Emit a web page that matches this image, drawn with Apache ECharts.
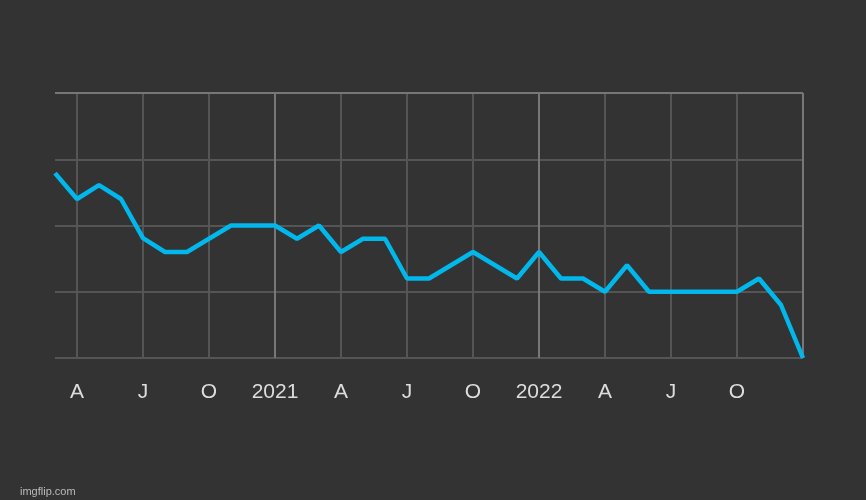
<!DOCTYPE html>
<html>
<head>
<meta charset="utf-8">
<script src="https://cdn.jsdelivr.net/npm/echarts@6/dist/echarts.min.js"></script>
<style>html,body{margin:0;background:#333;}</style>
</head>
<body>
<div id="chart" style="width:866px;height:500px;"></div>
<script>
// months Mar 2020 .. Jan 2023
var months = [];
for (var y = 2020; y <= 2023; y++) {
  for (var m = 1; m <= 12; m++) {
    if ((y === 2020 && m < 3) || (y === 2023 && m > 1)) continue;
    months.push(y + '-' + (m < 10 ? '0' + m : m));
  }
}
var values = [2.79, 2.4, 2.61, 2.4, 1.81, 1.6, 1.6, 1.8, 2.0, 2.0,
  2.0, 1.8, 2.0, 1.6, 1.8, 1.8, 1.2, 1.2, 1.4, 1.6, 1.4, 1.2,
  1.6, 1.2, 1.2, 1.0, 1.4, 1.0, 1.0, 1.0, 1.0, 1.0, 1.2, 0.8,
  0.0];
var monthLetters = {'04': 'A', '07': 'J', '10': 'O'};

function isMarked(i) {
  var mm = months[i].slice(5);
  return mm === '01' || monthLetters[mm];
}

var chart = echarts.init(document.getElementById('chart'));
chart.setOption({
  backgroundColor: '#333333',
  grid: {left: 55, right: 63, top: 93, bottom: 142},
  xAxis: {
    type: 'category',
    data: months,
    boundaryGap: false,
    axisLine: {show: false},
    axisTick: {show: false},
    axisLabel: {
      interval: function (i) { return isMarked(i) && i < months.length - 1; },
      color: '#dddddd',
      fontSize: 21,
      fontFamily: 'Liberation Sans',
      margin: 24,
      formatter: function (v) {
        var mm = v.slice(5);
        return mm === '01' ? v.slice(0, 4) : monthLetters[mm];
      }
    },
    splitLine: {
      show: true,
      interval: function (i) { return isMarked(i); },
      lineStyle: {color: '#555555', width: 2}
    }
  },
  yAxis: {
    type: 'value',
    min: 0, max: 4, interval: 1,
    axisLabel: {show: false},
    axisLine: {show: false},
    splitLine: {lineStyle: {color: '#555555', width: 2}}
  },
  series: [{
    type: 'line',
    data: values,
    symbol: 'none',
    lineStyle: {color: '#00b8ec', width: 4.5},
    markLine: {
      silent: true,
      symbol: 'none',
      label: {show: false},
      lineStyle: {color: '#777777', width: 2, type: 'solid'},
      data: [{xAxis: '2021-01'}, {xAxis: '2022-01'}, {xAxis: '2023-01'}, {yAxis: 4}]
    },
    z: 5
  }],
  graphic: [{
    type: 'text', left: 20, bottom: 3,
    style: {text: 'imgflip.com', fill: '#bbbbbb', fontSize: 11, fontFamily: 'Liberation Sans'}
  }]
});
</script>
</body>
</html>
